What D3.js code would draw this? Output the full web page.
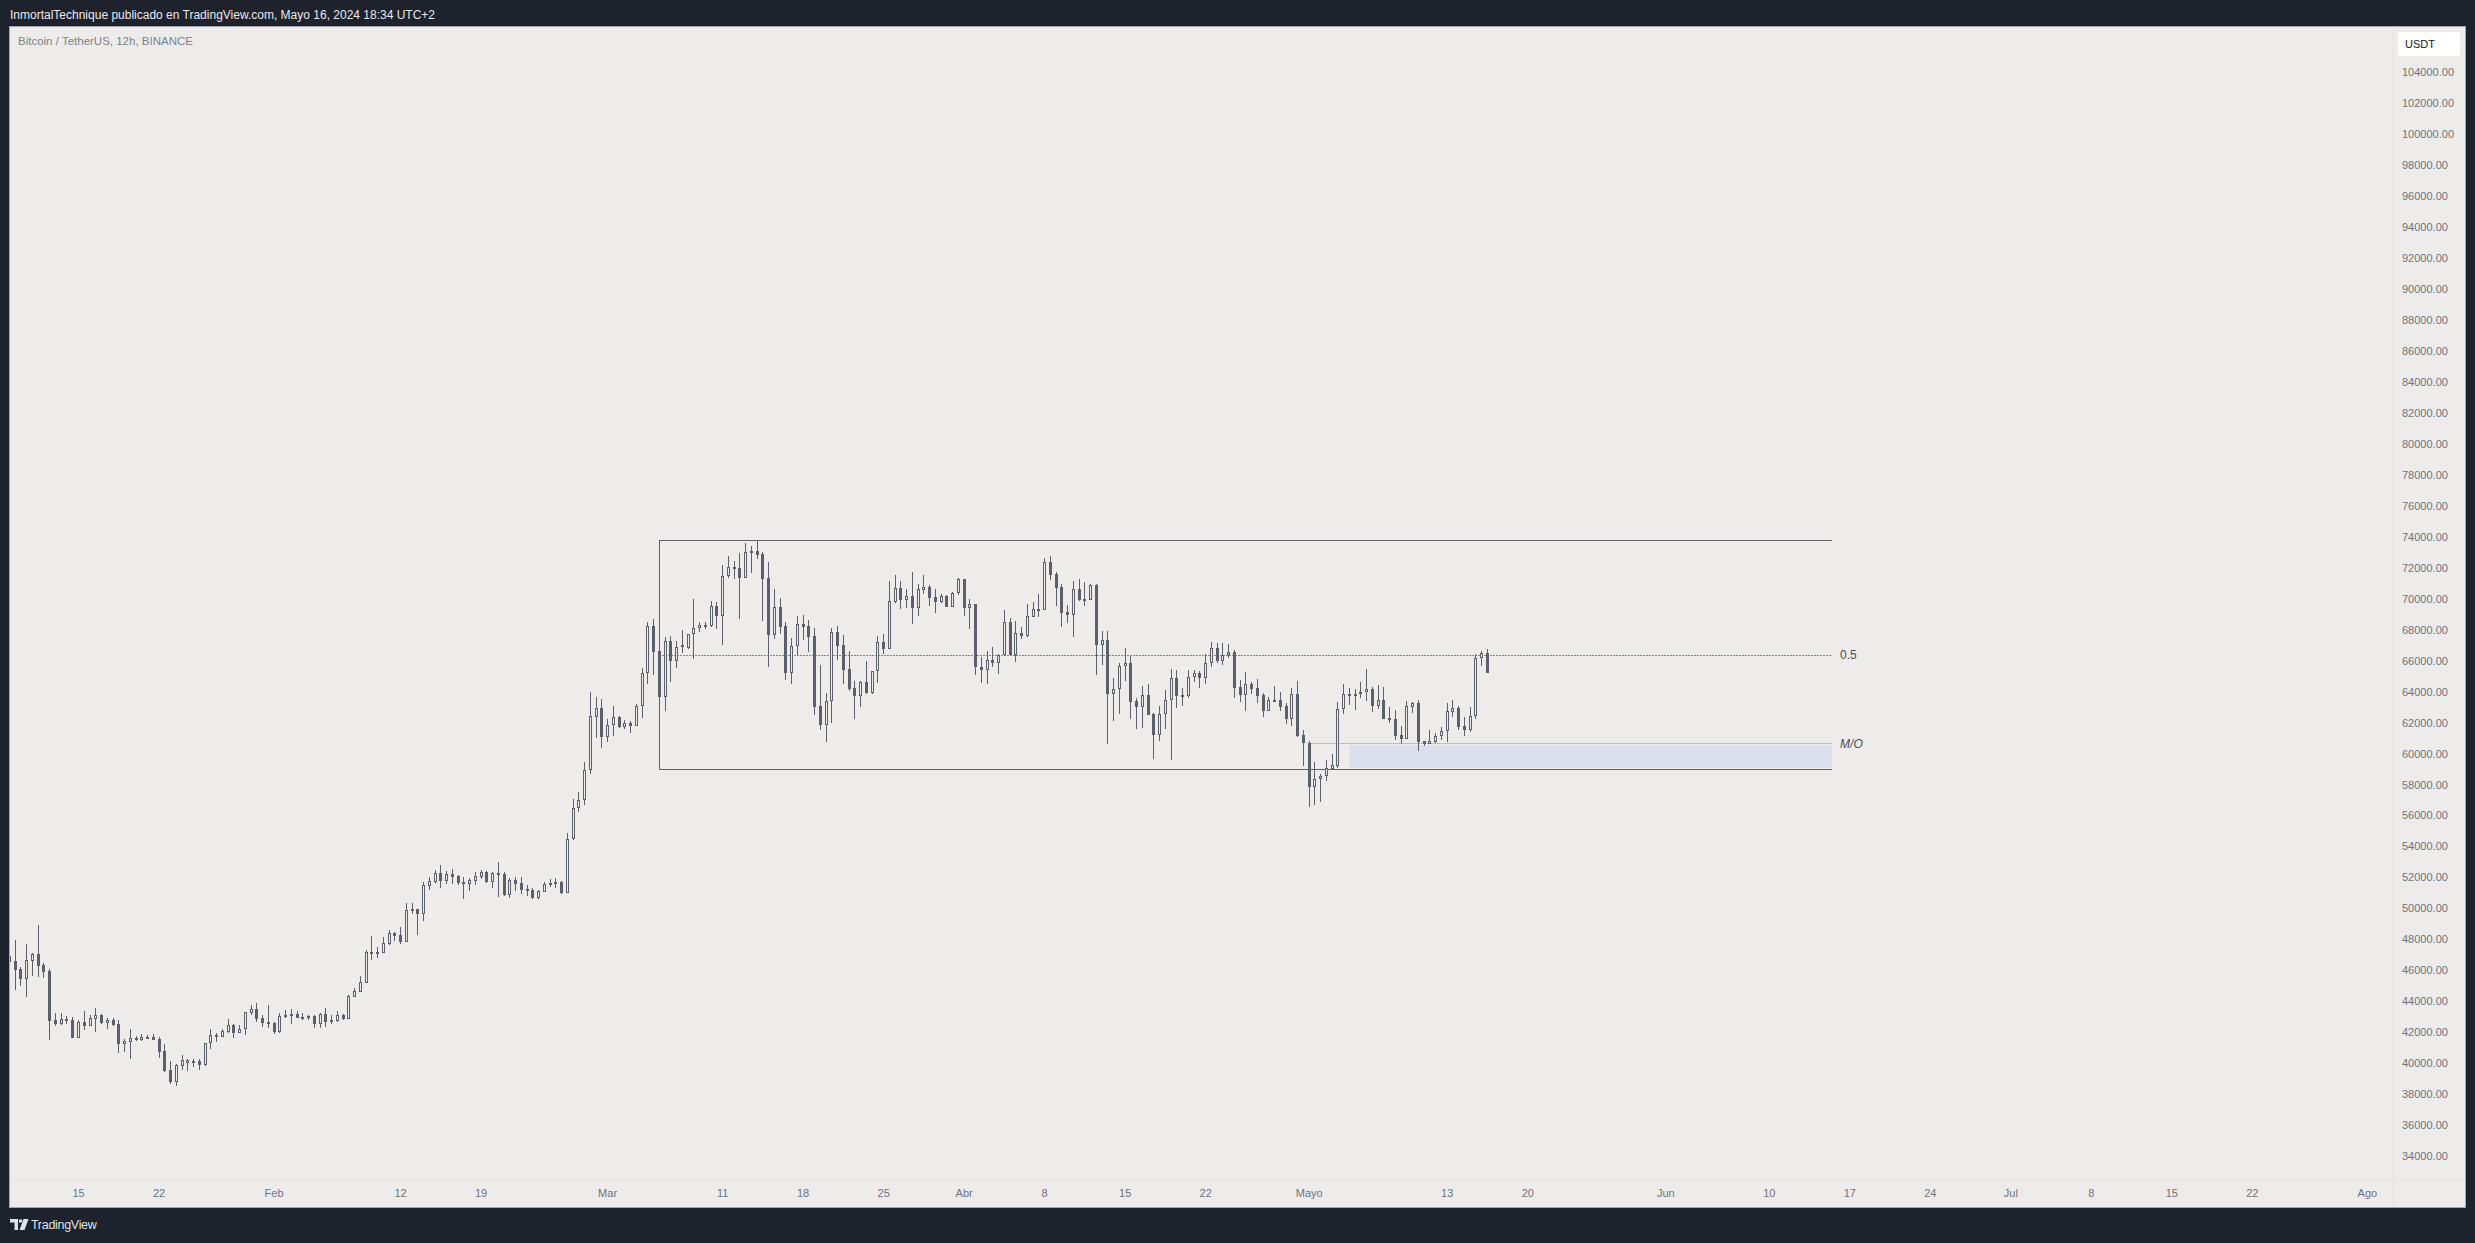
<!DOCTYPE html>
<html><head><meta charset="utf-8">
<script src="https://cdn.jsdelivr.net/npm/d3@7"></script>
<style>html,body{margin:0;padding:0;background:#1e222d;overflow:hidden}</style>
</head><body><svg id="c" width="2475" height="1243"></svg>
<script>
// ---------------- DATA ----------------
const firstCandle = "2024-01-09T00:00:00Z"; // 12h candles, BINANCE BTC/USDT
const opens = [46898,46598,46081,45457,46620,47050,46340,45952,42766,42529,42830,42787,41646,42658,42421,42873,43089,42615,42787,42529,41258,41388,41517,41517,41668,41711,41538,40785,39558,38804,39838,40032,40139,40139,39902,41280,41797,41711,42034,42443,41969,42185,43261,43498,42895,42658,42593,41990,43089,43132,43175,42960,43067,43024,42550,43175,42765,42744,43089,42873,44294,44617,45198,47114,47135,47135,47696,48385,48255,47847,49935,49935,49655,51442,51678,52282,51765,52217,52067,51700,51593,51786,52045,52325,51722,52260,52198,50864,51833,51639,51251,51187,50692,51079,51488,51617,51704,51015,54460,56462,56979,58938,62382,62920,61091,61823,62339,61736,61973,61801,63071,65181,68217,66624,63674,67269,65999,66882,66796,67700,68088,68260,68260,69509,68906,71446,72006,71963,71360,73041,73084,72889,71317,67678,69444,68217,65224,66925,68346,68217,67571,63049,61865,63372,67851,66989,65461,64234,63738,64621,63932,65310,67183,66774,69810,70671,69939,70176,69423,70585,70757,70111,69810,70176,69487,70348,71252,69423,69660,65590,65418,66042,65870,66344,68475,66387,67764,67614,68841,69315,69294,72351,71575,70736,69143,68970,70607,69961,69939,70865,67033,67312,63867,64148,65655,65827,63372,63028,63781,62554,61219,62533,63437,64880,63803,63695,64923,65181,64901,65827,66818,66000,66344,66538,64277,63803,64491,64211,63781,62769,63458,63458,63070,62209,63845,61176,60659,57860,58334,58549,59022,59217,62855,63845,63802,63824,63953,64168,63092,63458,62274,62209,61176,60960,63027,63243,60788,60637,60767,61111,61434,62704,62941,61778,61541,62403,66149,66472];
const highs = [47200,47954,46232,47696,47136,48923,46490,46081,43218,43218,43046,42960,42787,43369,43110,43584,43175,42938,42938,42787,41538,42206,41754,41861,41819,41861,41689,41237,40139,39924,40527,40268,40268,40268,41323,42206,41969,42206,42873,42529,42464,43326,43756,43885,43110,43756,42658,43239,43433,43498,43369,43239,43110,43110,43239,43562,43089,43369,43175,44402,44832,45629,47308,48212,47502,48148,48600,48471,48772,50344,50344,49960,51700,52023,52475,52798,52411,52540,52153,52023,51937,52325,52475,52411,52325,52971,52371,51962,52048,52005,51510,51337,51187,51704,51876,51984,51768,54847,57044,57539,59434,63954,63630,63523,62232,63071,62425,62167,62102,63200,65504,68475,68669,68949,67549,67592,67269,67980,67720,69982,68475,68475,69875,69789,72178,72760,72437,72953,73621,73427,73777,73018,72372,70607,70025,68475,67441,68884,68949,68626,68088,65719,63889,68088,68238,67657,66645,64686,64686,65977,65353,67592,67721,71145,71532,71145,70607,71726,70951,71532,70886,70607,70305,70240,70434,71360,71270,69961,69680,66236,66624,66904,66430,69272,68734,68540,68195,69660,69789,70284,72631,72760,71726,70951,69574,71123,71252,71080,70930,70951,67915,67915,64858,65827,66818,66323,63566,64363,64492,62619,63071,64104,65461,65396,64234,65396,65396,65353,66409,67205,67140,67140,67076,66688,64729,65267,64642,64793,63888,63630,64362,63975,63243,64211,64685,61498,60788,59432,58678,59582,59970,63329,64491,64211,64147,64620,65460,64298,64427,64276,62984,62812,61757,63393,63350,63458,60831,61520,61348,61735,63243,63458,63070,62338,62984,66408,66623,66752];
const lows = [46400,44725,45005,44294,45629,45586,45522,41495,42421,42464,42529,41600,41600,42142,42400,42034,42551,42206,42421,40634,40742,40268,41452,41452,41603,41500,40354,39450,38675,38524,39558,39493,39773,39558,39838,40936,41388,41700,41926,41646,41926,41840,43110,42658,42356,42292,41883,41926,42916,42550,42900,42787,42765,42249,42292,42356,42529,42658,42787,42850,44280,44600,45180,46662,46813,47120,47610,47890,47717,47830,49633,48277,49181,51184,51614,51291,51571,51593,51528,50624,51141,51506,51915,51650,51334,50754,50821,50649,51122,50929,50821,50584,50584,51036,51402,51294,50907,50972,54440,56246,56699,58701,61026,60380,60768,61156,61672,61564,61349,61780,62317,64492,65073,59005,62748,64621,65547,66473,66780,66086,67872,68023,68195,68066,67011,71317,71296,68669,71340,71640,72544,68583,65611,67420,67721,64750,64492,66387,67312,66581,62490,61543,60767,61994,66042,64492,64040,62253,63028,63846,63824,64578,66409,66760,69745,69315,69423,68367,68906,70305,69530,69057,69702,69466,69466,70240,68906,68066,65095,64578,64492,65612,65116,66330,66370,65935,67420,67549,68798,68841,69280,71209,69530,68195,68454,67549,69853,69530,69918,65073,65719,60638,62124,62576,64707,62253,61607,61672,62490,59669,60832,61607,59583,62963,63071,63609,64643,64255,64492,65612,65870,65741,66193,63609,63351,62769,63845,63286,62381,62750,63350,62769,61908,61778,61046,59217,56568,56654,56891,58248,59000,59044,62553,63135,62812,63609,63393,62704,62855,62220,61951,60874,60637,60917,62639,60185,60508,60616,60659,60874,60767,62381,61520,61154,61413,62231,65654,65180];
const closes = [46555,46038,45457,46663,47072,46297,45909,42744,42529,42830,42850,41646,42637,42400,42895,43089,42594,42787,42464,41258,41431,41603,41625,41689,41711,41517,40742,39493,38804,39881,40204,40204,40032,39902,41280,41819,41840,42077,42443,41969,42185,43282,43498,42873,42615,42550,42034,43046,42981,43175,42938,42916,43024,42550,43175,42679,42658,43089,42873,44337,44639,45220,47157,47157,47178,47739,48385,48234,47847,49870,49849,49633,51485,51743,52282,51765,52217,52045,51657,51657,51808,52067,52325,51700,52260,52217,50864,51833,51596,51187,51144,50692,51122,51553,51617,51704,51015,54460,56462,56979,58938,62425,62920,61091,61823,62339,61736,61952,61801,63071,65181,68217,66581,63674,67269,65999,66882,66989,67700,68088,68281,68303,69509,68906,71446,72028,72049,71360,72997,73084,72846,71296,67678,69444,68195,65224,66925,68346,68195,67549,63028,61865,63372,67851,66968,65418,64148,63738,64600,63932,65310,67183,66774,69853,70671,69939,70154,69423,70607,70757,70068,69789,70176,69487,70370,71252,69423,69638,65569,65418,66042,65870,66344,68475,66387,67764,67614,68863,69315,69337,72351,71554,70714,69100,68970,70607,69918,69939,70865,67033,67312,63867,64148,65655,65827,63351,63028,63781,62511,61219,62533,63437,64880,63738,63695,64945,65181,64901,65827,66818,66000,66344,66538,64255,63803,64492,64190,63738,62769,63458,63415,63027,62209,63845,61154,60659,57860,58334,58570,59044,59260,62855,63845,63802,63845,63975,64147,63092,63436,62231,62188,61154,60960,63049,63243,60767,60637,60788,61133,61434,62747,62920,61736,61541,62403,66149,66472,65223];

const priceTicks = [34000,36000,38000,40000,42000,44000,46000,48000,50000,52000,54000,56000,58000,60000,62000,64000,66000,68000,70000,72000,74000,76000,78000,80000,82000,84000,86000,88000,90000,92000,94000,96000,98000,100000,102000,104000];
const timeTickDates = ["2024-01-15","2024-01-22","2024-02-01","2024-02-12","2024-02-19","2024-03-01","2024-03-11","2024-03-18","2024-03-25","2024-04-01","2024-04-08","2024-04-15","2024-04-22","2024-05-01","2024-05-13","2024-05-20","2024-06-01","2024-06-10","2024-06-17","2024-06-24","2024-07-01","2024-07-08","2024-07-15","2024-07-22","2024-08-01"];
const timeTickLabels = ["15","22","Feb","12","19","Mar","11","18","25","Abr","8","15","22","Mayo","13","20","Jun","10","17","24","Jul","8","15","22","Ago"];

// drawings
const rangeStart = "2024-03-05T12:00:00Z";
const rangeEnd = "2024-06-15T12:00:00Z";
const rangeHigh = 73777;
const rangeLow = 59005;
const fibLevels = [{label:"0.5", price:66391}];
const monthlyOpen = {label:"M/O", price:60659, start:"2024-05-01T00:00:00Z"};
const zone = {start:"2024-05-04T12:00:00Z", end:"2024-06-15T12:00:00Z", top:60530, bottom:59075};

// ---------------- CHART ----------------
const BG = "#edecea", CANDLE = "#5d606b", AXIS_TXT = "#6f727c";
const svg = d3.select("#c");
const plot = {l:10, t:27, r:2393, b:1180, R:2465, B:1207};

svg.append("rect").attr("x",0).attr("y",0).attr("width",2475).attr("height",1243).attr("fill","#1e222d");
svg.append("rect").attr("x",plot.l).attr("y",plot.t).attr("width",plot.R-plot.l).attr("height",plot.B-plot.t).attr("fill",BG);
svg.append("rect").attr("x",plot.l-0.5).attr("y",plot.t-0.5).attr("width",plot.R-plot.l+1).attr("height",plot.B-plot.t+1)
  .attr("fill","none").attr("stroke","#a3a6ad");
svg.append("line").attr("x1",plot.r+0.5).attr("x2",plot.r+0.5).attr("y1",plot.t).attr("y2",plot.B).attr("stroke","#e4e3e0");
svg.append("line").attr("x1",plot.l).attr("x2",plot.R).attr("y1",plot.b+0.5).attr("y2",plot.b+0.5).attr("stroke","#e4e3e0");

const x = d3.scaleUtc().domain([new Date("2024-01-15T00:00:00Z"), new Date("2024-08-01T00:00:00Z")]).range([78, 2366.9]);
const y = d3.scaleLinear().domain([34000, 104000]).range([1156, 72.4]);
const px = v => Math.round(v) + 0.5;

svg.append("clipPath").attr("id","clip").append("rect")
  .attr("x",plot.l).attr("y",plot.t).attr("width",plot.r-plot.l).attr("height",plot.b-plot.t);
const g = svg.append("g").attr("clip-path","url(#clip)");

// drawings under candles
const xs = x(new Date(rangeStart)), xe = x(new Date(rangeEnd));
g.append("rect").attr("x",Math.round(x(new Date(zone.start)))).attr("width",Math.round(x(new Date(zone.end)))-Math.round(x(new Date(zone.start))))
  .attr("y",Math.round(y(zone.top))).attr("height",Math.round(y(zone.bottom))-Math.round(y(zone.top))).attr("fill","#dbdfee");
g.append("line").attr("x1",x(new Date(monthlyOpen.start))).attr("x2",xe).attr("y1",px(y(monthlyOpen.price))).attr("y2",px(y(monthlyOpen.price)))
  .attr("stroke","#8f9299").attr("stroke-dasharray","1 1");
fibLevels.forEach(f=>{
  g.append("line").attr("x1",px(xs)).attr("x2",xe).attr("y1",px(y(f.price))).attr("y2",px(y(f.price)))
    .attr("stroke","#1f2126").attr("stroke-dasharray","1 2");
});
[rangeHigh, rangeLow].forEach(p=>{
  g.append("line").attr("x1",px(xs)-0.5).attr("x2",xe).attr("y1",px(y(p))).attr("y2",px(y(p))).attr("stroke",CANDLE);
});
g.append("line").attr("x1",px(xs)).attr("x2",px(xs)).attr("y1",px(y(rangeHigh))).attr("y2",px(y(rangeLow))).attr("stroke",CANDLE);

// candles
const t0 = new Date(firstCandle);
const candles = opens.map((o,i)=>({t:d3.utcHour.offset(t0, 12*i), o, h:highs[i], l:lows[i], c:closes[i]}));
const cg = g.append("g");
candles.forEach(d=>{
  const r = Math.round(x(d.t));
  const up = d.c >= d.o;
  const yh = Math.round(y(d.h)), yl = Math.round(y(d.l));
  let yt = Math.round(y(Math.max(d.o,d.c))), yb = Math.round(y(Math.min(d.o,d.c)));
  cg.append("line").attr("x1",r+0.5).attr("x2",r+0.5).attr("y1",yh).attr("y2",yl).attr("stroke",CANDLE);
  if (yb - yt < 2) yb = yt + 2;
  if (up) {
    cg.append("rect").attr("x",r-0.5).attr("y",yt+0.5).attr("width",2).attr("height",yb-yt-1)
      .attr("fill",BG).attr("stroke",CANDLE);
  } else {
    cg.append("rect").attr("x",r-1).attr("y",yt).attr("width",3).attr("height",yb-yt).attr("fill",CANDLE);
  }
});

// drawing labels
fibLevels.forEach(f=>{
  svg.append("text").attr("x",xe+8).attr("y",y(f.price)+4).text(f.label)
    .attr("font-family","Liberation Sans, Arial, sans-serif").attr("font-size",12).attr("fill","#4a4c53");
});
svg.append("text").attr("x",xe+8).attr("y",y(monthlyOpen.price)+5).text(monthlyOpen.label)
  .attr("font-family","Liberation Sans, Arial, sans-serif").attr("font-size",12).attr("font-style","italic").attr("fill","#4a4c53");

// price axis
const ya = svg.append("g").attr("transform","translate(2402,0)")
  .call(d3.axisRight(y).tickValues(priceTicks).tickSize(0).tickPadding(0).tickFormat(d=>d.toFixed(2)));
ya.select(".domain").remove();
ya.selectAll("text").attr("font-family","Liberation Sans, Arial, sans-serif").attr("font-size",11).attr("fill",AXIS_TXT).attr("text-anchor","start");

// time axis
const labelOf = new Map(timeTickDates.map((d,i)=>[d, timeTickLabels[i]]));
const xa = svg.append("g").attr("transform",`translate(0,${plot.b})`)
  .call(d3.axisBottom(x).tickValues(timeTickDates.map(d=>new Date(d+"T00:00:00Z"))).tickSize(0).tickPadding(9)
    .tickFormat(d=>labelOf.get(d.toISOString().slice(0,10))));
xa.select(".domain").remove();
xa.selectAll("text").attr("font-family","Liberation Sans, Arial, sans-serif").attr("font-size",11).attr("fill",AXIS_TXT);

// USDT badge
svg.append("rect").attr("x",2398).attr("y",32).attr("width",62).attr("height",24).attr("rx",3).attr("fill","#ffffff");
svg.append("text").attr("x",2405).attr("y",48).text("USDT").attr("font-family","Liberation Sans, Arial, sans-serif").attr("font-size",11).attr("fill","#131722");

// headers
svg.append("text").attr("x",10).attr("y",19).text("InmortalTechnique publicado en TradingView.com, Mayo 16, 2024 18:34 UTC+2")
  .attr("font-family","Liberation Sans, Arial, sans-serif").attr("font-size",12).attr("fill","#e6e8ee");
svg.append("text").attr("x",18).attr("y",45).text("Bitcoin / TetherUS, 12h, BINANCE")
  .attr("font-family","Liberation Sans, Arial, sans-serif").attr("font-size",11.5).attr("fill","#7d808a");

// TradingView logo
const lg = svg.append("g").attr("fill","#dfe2ea");
lg.append("path").attr("d","M10,1219 H18 V1230 H14.5 V1222.5 H10 Z");
lg.append("circle").attr("cx",20.5).attr("cy",1221).attr("r",1.8);
lg.append("path").attr("d","M23.5,1219 H28.5 L24.5,1230 H19.5 Z");
svg.append("text").attr("x",31).attr("y",1229).text("TradingView")
  .attr("font-family","Liberation Sans, Arial, sans-serif").attr("font-size",12.5).attr("letter-spacing","-0.3").attr("fill","#dfe2ea");
</script></body></html>
